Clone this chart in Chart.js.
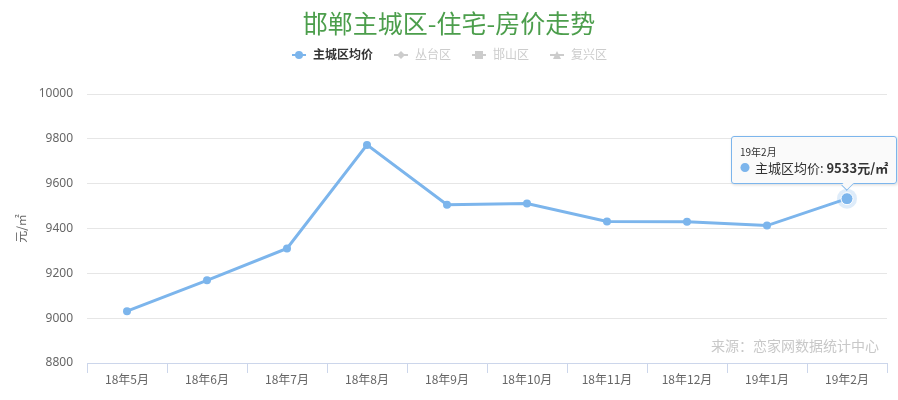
<!DOCTYPE html>
<html>
<head>
<meta charset="utf-8">
<script src="https://cdn.jsdelivr.net/npm/chart.js@4"></script>
<style>
  body { margin:0; background:#fff; font-family:"Microsoft YaHei","Noto Sans CJK SC","Noto Sans",sans-serif; }
  #wrap { position:relative; width:898px; height:400px; overflow:hidden; }
  #title { position:absolute; top:4px; left:0; width:898px; text-align:center; font-size:25px; color:#4c9e4c; }
  #legend { position:absolute; top:45px; left:292px; font-size:12px; white-space:nowrap; }
  #legend span.item { display:inline-block; margin-right:21px; color:#ccc; }
  #legend span.item.on { color:#333; font-weight:bold; }
  #legend svg { vertical-align:-2px; margin-right:7px; }
  #credit { position:absolute; right:19px; top:335px; font-size:14px; color:#c8c8c8; }
  #tip { position:absolute; display:none; background:rgba(249,249,249,0.9); border:1px solid #7cb5ec; border-radius:3px;
         box-shadow:1px 1px 3px rgba(0,0,0,0.15); padding:8px 8px 6px 8px; white-space:nowrap; color:#333; }
  #tip .t { font-size:10px; line-height:14px; }
  #tip .b { font-size:13px; line-height:18px; }
  #tip .b b { font-size:13px; }
  #tip .dot { color:#7cb5ec; font-size:10px; vertical-align:1px; margin-right:2px; }
  #tip .caret { position:absolute; bottom:-7px; width:10px; height:10px; background:rgba(249,249,249,1);
         border-right:1px solid #7cb5ec; border-bottom:1px solid #7cb5ec; transform:rotate(45deg) scale(0.7,0.9); }
</style>
</head>
<body>
<div id="wrap">
  <div id="title">邯郸主城区-住宅-房价走势</div>
  <div id="legend"></div>
  <canvas id="chart" width="898" height="400"></canvas>
  <div id="credit">来源：恋家网数据统计中心</div>
  <div id="tip"></div>
</div>
<script>
const months = ["18年5月","18年6月","18年7月","18年8月","18年9月","18年10月","18年11月","18年12月","19年1月","19年2月"]
const mainPrice = [9031, 9169, 9311, 9773, 9506, 9511, 9431, 9430, 9413, 9533]
const seriesNames = ["主城区均价","丛台区","邯山区","复兴区"]
const yTicks = [8800, 9000, 9200, 9400, 9600, 9800, 10000]
const unit = "元/㎡"

// legend, only the first series has data shown
const markers = [
  '<circle cx="7" cy="6" r="4" fill="#7cb5ec"/>',
  '<path d="M7 2 L11 6 L7 10 L3 6 Z" fill="#ccc"/>',
  '<rect x="3" y="2" width="8" height="8" fill="#ccc"/>',
  '<path d="M7 2 L11 10 L3 10 Z" fill="#ccc"/>'
]
const legend = document.getElementById("legend")
seriesNames.forEach((n, i) => {
  const col = i == 0 ? "#7cb5ec" : "#ccc"
  legend.innerHTML += '<span class="item' + (i == 0 ? ' on' : '') + '"><svg width="14" height="12">' +
    '<line x1="0" y1="6" x2="14" y2="6" stroke="' + col + '" stroke-width="2"/>' + markers[i] + '</svg>' + n + '</span>'
})

const halo = {
  id: "halo",
  beforeDatasetsDraw(chart) {
    const act = chart.getActiveElements()
    const ctx = chart.ctx
    act.forEach(a => {
      ctx.save()
      ctx.beginPath()
      ctx.arc(a.element.x, a.element.y, 10, 0, Math.PI * 2)
      ctx.fillStyle = "rgba(124,181,236,0.25)"
      ctx.fill()
      ctx.restore()
    })
  }
}

function showTip(context) {
  const model = context.tooltip
  const tip = document.getElementById("tip")
  if (model.opacity === 0) { tip.style.display = "none"; return }
  const dp = model.dataPoints[0]
  tip.innerHTML = '<div class="t">' + dp.label + '</div><div class="b"><span class="dot">●</span> ' +
    seriesNames[0] + ': <b>' + dp.raw + unit + '</b></div><div class="caret"></div>'
  tip.style.display = "block"
  const w = tip.offsetWidth, h = tip.offsetHeight
  let left = Math.min(model.caretX - w / 2, 898 - w - 1)
  tip.style.left = left + "px"
  tip.style.top = (model.caretY - h - 15) + "px"
  tip.querySelector(".caret").style.left = (model.caretX - left - 6) + "px"
}

const chart = new Chart(document.getElementById("chart"), {
  type: "line",
  data: {
    labels: months,
    datasets: [{
      label: seriesNames[0],
      data: mainPrice,
      borderColor: "#7cb5ec",
      backgroundColor: "#7cb5ec",
      borderWidth: 3,
      pointRadius: 4,
      pointBackgroundColor: "#7cb5ec",
      pointBorderWidth: 0,
      pointHoverRadius: 6,
      pointHoverBorderWidth: 1,
      pointHoverBorderColor: "#fff",
      pointHoverBackgroundColor: "#7cb5ec",
      tension: 0
    }]
  },
  options: {
    responsive: false,
    animation: false,
    layout: { padding: { left: 14, right: 11, top: 94, bottom: 0 } },
    plugins: {
      legend: { display: false },
      tooltip: { enabled: false, external: showTip, mode: "index", intersect: false }
    },
    scales: {
      x: {
        offset: true,
        grid: { offset: true, drawOnChartArea: false, tickLength: 10, color: "#ccd6eb" },
        border: { color: "#ccd6eb" },
        ticks: { color: "#666", font: { size: 12, family: "Noto Sans CJK SC" }, padding: -1, maxRotation: 0 },
        afterFit: s => { s.height = 37 }
      },
      y: {
        min: yTicks[0],
        max: yTicks[yTicks.length - 1],
        afterBuildTicks: s => { s.ticks = yTicks.map(v => ({ value: v })) },
        grid: { color: "#e6e6e6", drawTicks: false },
        border: { display: false },
        ticks: { color: "#666", font: { size: 12, family: "Noto Sans" }, padding: 14, callback: v => String(v) },
        title: { display: true, text: unit, color: "#666", font: { size: 12, family: "Noto Sans CJK SC" }, padding: 0 },
        afterFit: s => { s.width = 73 }
      }
    }
  },
  plugins: [halo]
})

const last = mainPrice.length - 1
const el = chart.getDatasetMeta(0).data[last]
chart.setActiveElements([{ datasetIndex: 0, index: last }])
chart.tooltip.setActiveElements([{ datasetIndex: 0, index: last }], { x: el.x, y: el.y })
chart.update()
</script>
</body>
</html>
